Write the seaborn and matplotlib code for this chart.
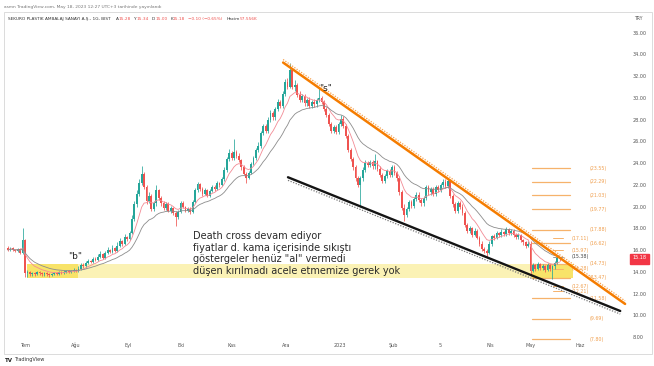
import numpy as np
import pandas as pd
import matplotlib.pyplot as plt
import matplotlib.transforms as mtransforms
import seaborn as sns
from matplotlib.patches import Rectangle

# ******************DATA (one bar per trading day)******************
closes = [16.0, 16.2, 16.0, 15.9, 16.1, 15.7, 16.9, 13.9, 14.0, 13.8,
          13.9, 13.8, 14.0, 13.9, 13.8, 13.9, 13.8, 13.7, 13.8, 13.9,
          13.8, 14.0, 13.9, 14.0, 14.1, 14.0, 14.1, 14.2, 14.1, 14.3,
          14.6, 14.5, 14.8, 15.0, 14.9, 15.2, 15.1, 15.4, 15.6, 15.3,
          15.7, 16.0, 15.8, 16.2, 15.9, 16.4, 16.8, 16.6, 17.2, 17.0,
          17.6, 18.9, 20.2, 21.2, 22.2, 23.0, 21.8, 20.5, 21.0, 19.8,
          20.3, 21.5, 20.8, 20.3, 19.9, 20.2, 19.6, 19.9, 19.4, 19.0,
          19.5, 20.3, 20.0, 19.6, 19.8, 19.5, 20.4, 21.5, 22.1, 21.6,
          21.2, 21.5, 21.0, 21.4, 21.8, 21.6, 22.2, 22.0, 22.5, 23.4,
          24.4, 24.9, 24.5, 25.0, 24.7, 24.3, 23.6, 23.0, 22.6, 23.1,
          23.9, 24.5, 25.2, 25.6, 26.8, 27.4, 27.0, 28.0, 28.6, 28.2,
          29.0, 29.6, 29.3, 30.4, 31.5, 31.0, 32.6, 31.0, 31.2, 30.3,
          29.8, 30.2, 29.5, 29.8, 29.3, 29.6, 29.4, 29.8, 30.0, 29.6,
          29.0, 28.4, 27.6, 27.0, 27.3, 26.9, 27.6, 28.1, 27.4, 26.5,
          25.2, 24.4, 23.6, 22.6, 22.0, 22.6, 23.4, 24.0, 23.8, 24.1,
          23.7, 24.2, 23.5, 22.9, 22.4, 22.8, 23.3, 22.9, 23.6, 23.1,
          22.6, 21.3, 19.9, 19.2, 19.8, 20.4, 20.1, 20.7, 21.1, 20.6,
          20.3, 20.8, 21.8, 21.3, 21.6, 21.2, 21.8, 21.5, 22.0, 22.3,
          21.9, 22.4, 21.0, 20.2, 19.6, 20.3, 20.0, 19.4, 18.3, 17.8,
          18.0, 17.4, 17.8, 17.1, 16.6, 16.1, 15.9, 15.7, 16.6, 17.3,
          17.1, 17.6, 17.4, 17.7, 17.5, 17.9, 17.6, 17.8, 17.4, 17.2,
          17.4, 16.9, 16.7, 16.4, 16.6, 14.1, 14.6, 14.3, 14.7, 14.4,
          14.5, 14.2, 14.6, 14.3, 14.5, 14.8, 15.28, 15.18]

highs = [16.4, 16.3, 16.3, 16.1, 16.2, 16.2, 18.0, 17.0, 14.2, 14.1,
         14.0, 14.0, 14.1, 14.1, 14.0, 14.0, 14.0, 13.9, 13.9, 14.0,
         14.0, 14.1, 14.1, 14.2, 14.2, 14.2, 14.2, 14.4, 14.3, 14.5,
         14.8, 14.8, 15.0, 15.2, 15.1, 15.4, 15.4, 15.6, 15.9, 15.7,
         15.9, 16.3, 16.1, 16.5, 16.3, 16.7, 17.1, 16.9, 17.5, 17.3,
         17.8, 19.2, 20.5, 21.5, 22.5, 23.7, 23.2, 22.0, 21.3, 21.2,
         20.5, 22.0, 21.6, 21.0, 20.5, 20.4, 20.4, 20.1, 20.0, 19.6,
         19.7, 20.5, 20.5, 20.1, 20.0, 20.0, 20.6, 21.7, 22.3, 22.2,
         21.8, 21.7, 21.6, 21.6, 22.0, 22.0, 22.4, 22.3, 22.7, 23.6,
         24.6, 25.3, 25.1, 26.2, 25.2, 24.9, 24.4, 23.8, 23.2, 23.3,
         24.1, 24.7, 25.4, 25.9, 27.0, 27.6, 27.6, 28.2, 28.9, 28.8,
         29.2, 29.9, 29.8, 30.6, 31.7, 31.8, 33.2, 32.7, 31.6, 31.4,
         30.6, 30.4, 30.4, 30.0, 30.1, 29.8, 29.9, 30.0, 31.0, 30.2,
         29.8, 29.2, 28.6, 27.8, 27.5, 27.5, 27.8, 28.4, 28.3, 27.6,
         26.7, 25.4, 24.6, 23.8, 22.8, 22.8, 23.6, 24.3, 24.2, 24.3,
         24.3, 24.8, 24.3, 23.7, 23.1, 23.0, 23.5, 23.5, 23.8, 23.8,
         23.3, 22.8, 21.5, 20.2, 20.0, 20.6, 20.6, 20.9, 21.3, 21.3,
         20.8, 21.0, 22.0, 22.0, 21.8, 21.8, 22.0, 22.0, 22.2, 22.5,
         22.5, 22.6, 22.5, 21.2, 20.4, 20.5, 20.5, 20.2, 19.6, 18.5,
         18.2, 18.1, 18.0, 17.9, 17.3, 16.8, 16.3, 16.1, 16.8, 17.4,
         17.5, 17.8, 17.7, 17.9, 17.8, 18.1, 18.0, 17.9, 17.9, 17.6,
         17.6, 17.5, 17.0, 16.8, 16.8, 16.8, 14.8, 14.7, 14.9, 14.8,
         14.7, 14.6, 14.8, 14.7, 14.6, 15.0, 15.45, 15.34]

lows = [15.9, 15.9, 15.9, 15.8, 15.8, 15.6, 15.6, 13.5, 13.5, 13.6,
        13.6, 13.6, 13.7, 13.7, 13.6, 13.6, 13.6, 13.5, 13.6, 13.7,
        13.7, 13.7, 13.8, 13.8, 13.9, 13.9, 13.9, 14.0, 14.0, 14.0,
        14.2, 14.4, 14.4, 14.7, 14.8, 14.8, 15.0, 15.0, 15.3, 15.2,
        15.2, 15.6, 15.7, 15.7, 15.8, 15.8, 16.3, 16.4, 16.5, 16.8,
        16.9, 17.5, 18.7, 20.0, 21.0, 22.0, 21.6, 20.2, 20.3, 19.6,
        19.6, 20.1, 20.6, 20.1, 19.7, 19.7, 19.5, 19.4, 19.2, 18.2,
        18.9, 19.4, 19.9, 19.5, 19.5, 19.3, 19.4, 20.3, 21.3, 21.4,
        21.0, 21.1, 20.9, 20.9, 21.3, 21.4, 21.5, 21.8, 21.9, 22.4,
        23.2, 24.2, 24.3, 24.3, 24.5, 24.1, 23.4, 22.9, 22.2, 22.5,
        23.0, 23.8, 24.3, 25.0, 25.4, 26.6, 26.8, 26.8, 27.8, 28.0,
        28.0, 28.8, 29.1, 29.1, 30.2, 30.8, 30.9, 30.8, 30.6, 30.1,
        29.6, 29.6, 29.3, 29.3, 29.1, 29.1, 29.2, 29.2, 29.6, 29.4,
        28.8, 28.2, 27.4, 26.8, 26.8, 26.7, 26.7, 27.4, 27.2, 26.3,
        25.0, 24.2, 23.4, 22.4, 21.8, 20.0, 22.4, 23.2, 23.6, 23.6,
        23.5, 23.5, 23.3, 22.7, 22.2, 22.2, 22.6, 22.7, 22.7, 22.9,
        22.4, 21.1, 19.7, 18.7, 19.0, 19.6, 19.9, 19.9, 20.5, 20.4,
        20.1, 20.1, 20.6, 21.1, 21.1, 21.0, 21.0, 21.3, 21.3, 21.8,
        21.7, 21.7, 20.8, 20.0, 19.4, 19.4, 19.8, 19.2, 18.1, 17.6,
        17.6, 17.2, 17.3, 17.0, 16.4, 15.9, 15.7, 15.4, 15.6, 16.4,
        16.9, 17.0, 17.2, 17.2, 17.3, 17.3, 17.4, 17.4, 17.2, 17.0,
        17.0, 16.7, 16.5, 16.2, 16.3, 13.6, 14.0, 14.1, 14.2, 14.2,
        14.2, 14.0, 14.1, 14.1, 13.3, 14.3, 14.7, 15.00]

first_open = 16.2

month_ticks = [7, 28, 49.4, 71.2, 92.2, 114.4, 136.6, 158.4, 177.8, 198.4, 215.2, 235.4]
month_labels = ['Tem', 'Ağu', 'Eyl', 'Eki', 'Kas', 'Ara', '2023', 'Şub', '5', 'Nis', 'May', 'Haz']
price_ticks = list(range(8, 37, 2))

# trend lines (bar index, price)
res_x = [113.2, 253.9]
res_y = [33.25, 11.05]
sup_x = [115.2, 251.9]
sup_y = [22.70, 10.40]

# yellow zone
band_lo, band_hi = 13.47, 14.73
band_x = [7.8, 232.5]
hot_x = [[7.8, 29.0], [215.6, 232.5]]

# levels on the right
fib_long = [23.55, 22.29, 21.03, 19.77, 17.88, 16.62, 14.73, 13.47, 11.58, 9.69, 7.80]
fib_short = [17.11, 15.97, 14.28, 12.67, 12.21]
fib_gray = 15.38
long_x = [215.6, 231.3]
short_x = [224.3, 228.4]

last_price = 15.18

note = ('Death cross devam ediyor\n'
        'fiyatlar d. kama içerisinde sıkıştı\n'
        'göstergeler henüz "al" vermedi\n'
        'düşen kırılmadı acele etmemize gerek yok')

# ******************BUILD DATAFRAME******************
df = pd.DataFrame({'close': closes, 'high': highs, 'low': lows})
df['bar'] = np.arange(len(df))
df['open'] = df['close'].shift(1).fillna(first_open)
df['ma_fast'] = df['close'].ewm(span=9).mean()
df['ma_slow'] = df['close'].ewm(span=21).mean()
up = df['close'] >= df['open']

# ******************PLOT******************
sns.set_theme(style="white")
plt.rcParams['font.family'] = ['DejaVu Sans']

fig = plt.figure(figsize=(6.54, 3.66), dpi=100)
ax = fig.add_axes([5 / 654, 25 / 366, 623 / 654, 319 / 366])

GREEN = '#26a69a'
RED = '#ef5350'
ORANGE = '#f57c00'
FIB = '#f6b26b'

# yellow zone
ax.fill_between(band_x, band_lo, band_hi, color='#fbf0a8', alpha=0.85, lw=0, zorder=0)
for hx in hot_x:
    ax.fill_between(hx, band_lo, band_hi, color='#f8df50', alpha=0.75, lw=0, zorder=0)

# level lines
for lv in fib_long:
    ax.plot(long_x, [lv, lv], color=FIB, lw=0.9, zorder=1)
    ax.text(239.5, lv, '(%.2f)' % lv, color='#f0a050', fontsize=3.4, va='center', ha='left')
for lv in fib_short:
    ax.plot(short_x, [lv, lv], color=FIB, lw=0.7, zorder=1)
    ax.text(232.0, lv, '(%.2f)' % lv, color='#f0a050', fontsize=3.4, va='center', ha='left')
ax.plot(short_x, [fib_gray, fib_gray], color='#999999', lw=0.7, zorder=1)
ax.text(232.0, fib_gray, '(%.2f)' % fib_gray, color='#444444', fontsize=3.4, va='center', ha='left')

# candles
colors = np.where(up, GREEN, RED)
ax.vlines(df['bar'], df['low'], df['high'], colors=colors, lw=0.55, zorder=2)
ax.bar(df['bar'], (df['close'] - df['open']).abs().clip(lower=0.05),
       bottom=df[['open', 'close']].min(axis=1), width=0.75, color=colors, lw=0, zorder=3)

# moving averages
sns.lineplot(data=df, x='bar', y='ma_fast', ax=ax, color='#f28b95', lw=0.6, zorder=4)
sns.lineplot(data=df, x='bar', y='ma_slow', ax=ax, color='#8c8c8c', lw=0.6, zorder=4)

# trend lines with dotted companions
up_shift = mtransforms.offset_copy(ax.transData, fig=fig, x=0, y=2.2, units='points')
dn_shift = mtransforms.offset_copy(ax.transData, fig=fig, x=0, y=-2.2, units='points')
sns.lineplot(x=res_x, y=res_y, ax=ax, color=ORANGE, lw=1.8, zorder=5)
ax.plot(res_x, res_y, color='#f7a04a', lw=0.9, ls=(0, (1, 1.2)), transform=up_shift, zorder=5)
sns.lineplot(x=sup_x, y=sup_y, ax=ax, color='#141414', lw=1.7, zorder=5)
ax.plot(sup_x, sup_y, color='#777777', lw=0.9, ls=(0, (1, 1.2)), transform=dn_shift, zorder=5)

# annotations
ax.text(27.6, 15.4, '"b"', fontsize=6.5, ha='center', va='center', color='#222222', zorder=6)
ax.text(130.5, 30.85, '"s"', fontsize=6.5, ha='center', va='center', color='#222222', zorder=6)
ax.text(76.1, 17.78, note, fontsize=7.0, ha='left', va='top', color='#2a2a2a',
        linespacing=1.22, zorder=6)

# axes
ax.set_xlim(-1.23, 255.1)
ax.set_ylim(7.64, 36.98)
ax.set_xticks(month_ticks)
ax.set_xticklabels(month_labels)
ax.set_yticks(price_ticks)
ax.set_yticklabels(['%.2f' % p for p in price_ticks])
ax.yaxis.tick_right()
ax.tick_params(axis='y', length=0, pad=3, labelsize=3.5, labelcolor='#555555')
ax.tick_params(axis='x', length=0, pad=1.2, labelsize=3.5, labelcolor='#555555')
ax.set_xlabel('')
ax.set_ylabel('')
for s in ax.spines.values():
    s.set_visible(False)
ax.grid(False)

# last price tag
tag_tf = mtransforms.blended_transform_factory(ax.transAxes, ax.transData)
ax.add_patch(Rectangle((1.003, last_price - 0.5), 0.03, 1.0, transform=tag_tf,
                       color='#f23645', clip_on=False, zorder=7))
ax.text(1.018, last_price + 0.12, '%.2f' % last_price, transform=tag_tf, color='white',
        fontsize=3.5, ha='center', va='center', clip_on=False, zorder=8)

# header / frame
fig.patches.append(Rectangle((4 / 654, 12 / 366), 648 / 654, 342 / 366, transform=fig.transFigure,
                             fill=False, ec='#d6d6d6', lw=0.6))
fig.text(4 / 654, 1 - 7 / 366, 'asmn TradingView.com, May 18, 2023 12:27 UTC+3 tarihinde yayınlandı',
         fontsize=3.2, color='#777777', va='center')

renderer = fig.canvas.get_renderer()
hy = 1 - 19 / 366
header = [('SEKURO PLASTIK AMBALAJ SANAYI A.Ş., 1G, BIST', '#333333', 5),
          ('A', '#333333', 0), ('15.28', RED, 3),
          ('Y', '#333333', 0), ('15.34', RED, 3),
          ('D', '#333333', 0), ('15.00', RED, 3),
          ('K', '#333333', 0), ('15.18', RED, 3),
          ('−0.10 (−0.65%)', RED, 4),
          ('Hacim', '#333333', 0), ('57.556K', RED, 0)]
xpix = 8
for txt, col, gap in header:
    t = fig.text(xpix / 654, hy, txt, fontsize=3.1, color=col, va='center')
    bb = t.get_window_extent(renderer=renderer)
    xpix = bb.x1 + gap
fig.text(634 / 654, hy, 'TRY', fontsize=3.3, color='#555555', va='center')
fig.text(5 / 654, 1 - 360 / 366, 'TV', fontsize=4, color='#222222', va='center', weight='bold')
fig.text(14 / 654, 1 - 360 / 366, 'TradingView', fontsize=3.6, color='#333333', va='center')

fig.savefig('out.png', dpi=100)
